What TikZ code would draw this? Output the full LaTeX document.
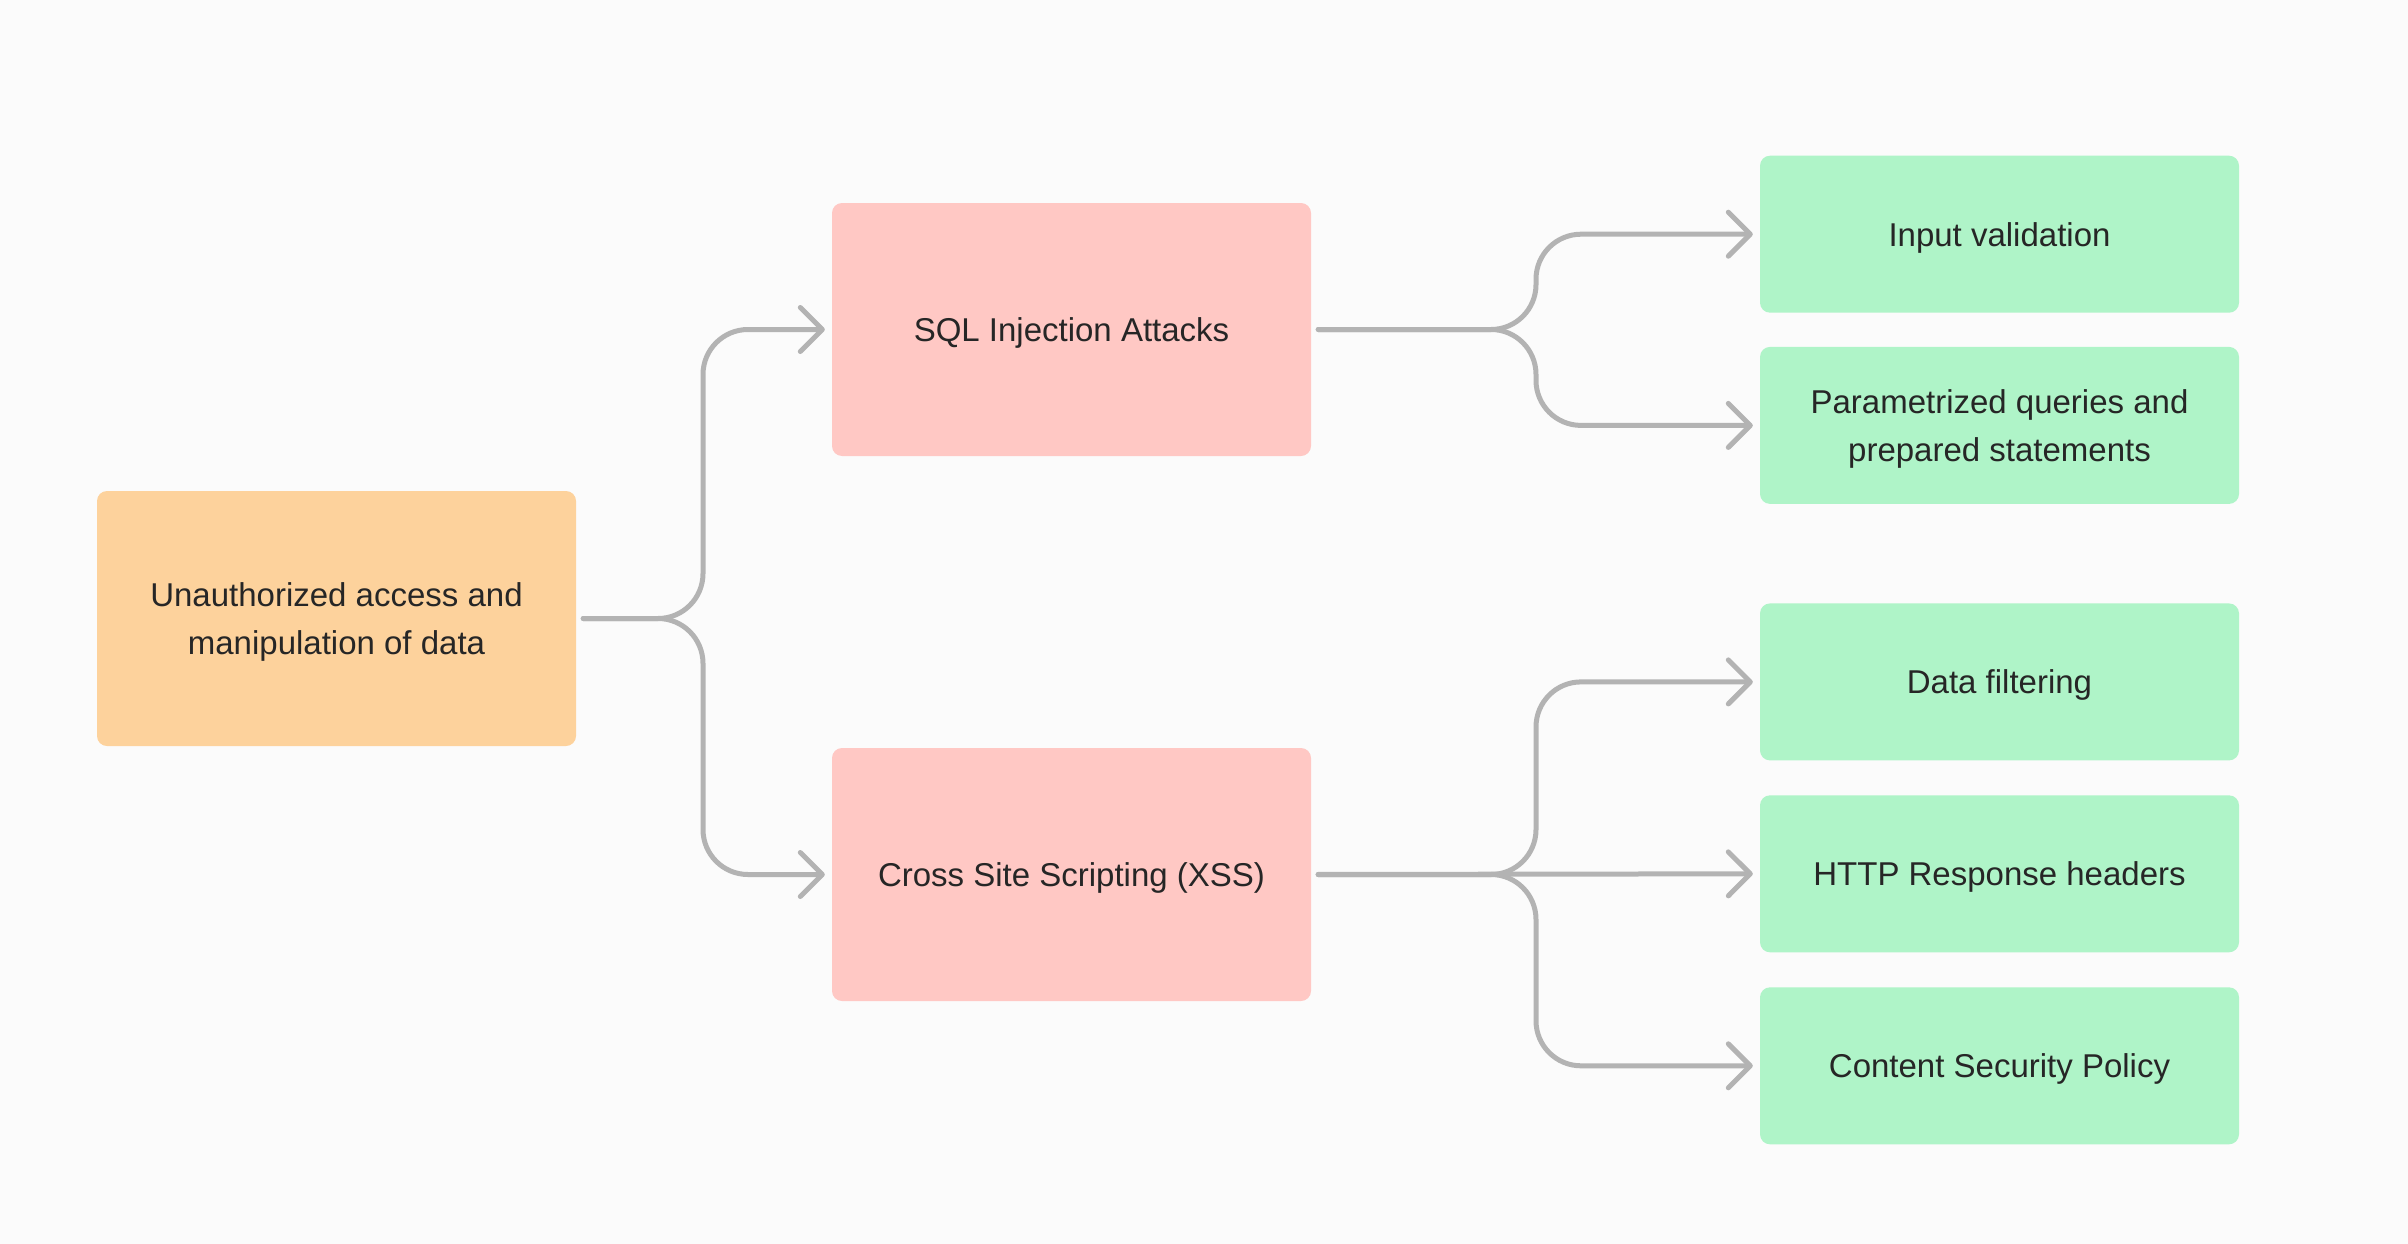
\documentclass[tikz,border=0pt]{standalone}
\usepackage{fontspec}
\setmainfont{Liberation Sans}
\usetikzlibrary{arrows.meta}
\definecolor{bg}{HTML}{FBFBFB}
\definecolor{orangefill}{HTML}{FDD29C}
\definecolor{pinkfill}{HTML}{FFC8C4}
\definecolor{greenfill}{HTML}{AFF4C8}
\definecolor{linegray}{HTML}{B3B3B3}
\definecolor{txt}{HTML}{262626}
\begin{document}
\begin{tikzpicture}[x=1pt,y=-1pt,
  box/.style={rounded corners=10pt, minimum width=479pt, align=center,
    font=\fontsize{33}{48}\selectfont, text=txt, inner sep=0pt, text depth=0pt},
  rootbox/.style={box, fill=orangefill, minimum height=255pt},
  attackbox/.style={box, fill=pinkfill, minimum height=253pt},
  fixbox/.style={box, fill=greenfill, minimum height=157pt},
  conn/.style={draw=linegray, line width=5pt, line cap=round, line join=round,
    rounded corners=45pt, -{Straight Barb[length=22pt,width=44pt,round]},
    shorten <=7pt, shorten >=7pt}]
\fill[bg] (0,0) rectangle (2408,1244);
\useasboundingbox (0,0) rectangle (2408,1244);

\node[rootbox] (root) at (336.5,618.5) {Unauthorized access and\\manipulation of data};
\node[attackbox] (sql) at (1071.5,329.5) {SQL Injection Attacks};
\node[attackbox] (xss) at (1071.5,874.5) {Cross Site Scripting (XSS)};

\node[fixbox] (iv) at (1999.5,234.2) {Input validation};
\node[fixbox] (pq) at (1999.5,425.4) {Parametrized queries and\\prepared statements};
\node[fixbox] (df) at (1999.5,681.9) {Data filtering};
\node[fixbox] (http) at (1999.5,873.8) {HTTP Response headers};
\node[fixbox] (csp) at (1999.5,1065.8) {Content Security Policy};

\coordinate (j1) at (703,0);
\coordinate (j2) at (1536,0);

\draw[conn] (root.east) -- (root.east -| j1) |- (sql.west);
\draw[conn] (root.east) -- (root.east -| j1) |- (xss.west);

\draw[conn] (sql.east) -- (sql.east -| j2) |- (iv.west);
\draw[conn] (sql.east) -- (sql.east -| j2) |- (pq.west);

\draw[conn] (xss.east) -- (xss.east -| j2) |- (df.west);
\draw[conn] (xss.east) -- (http.west);
\draw[conn] (xss.east) -- (xss.east -| j2) |- (csp.west);
\end{tikzpicture}
\end{document}
